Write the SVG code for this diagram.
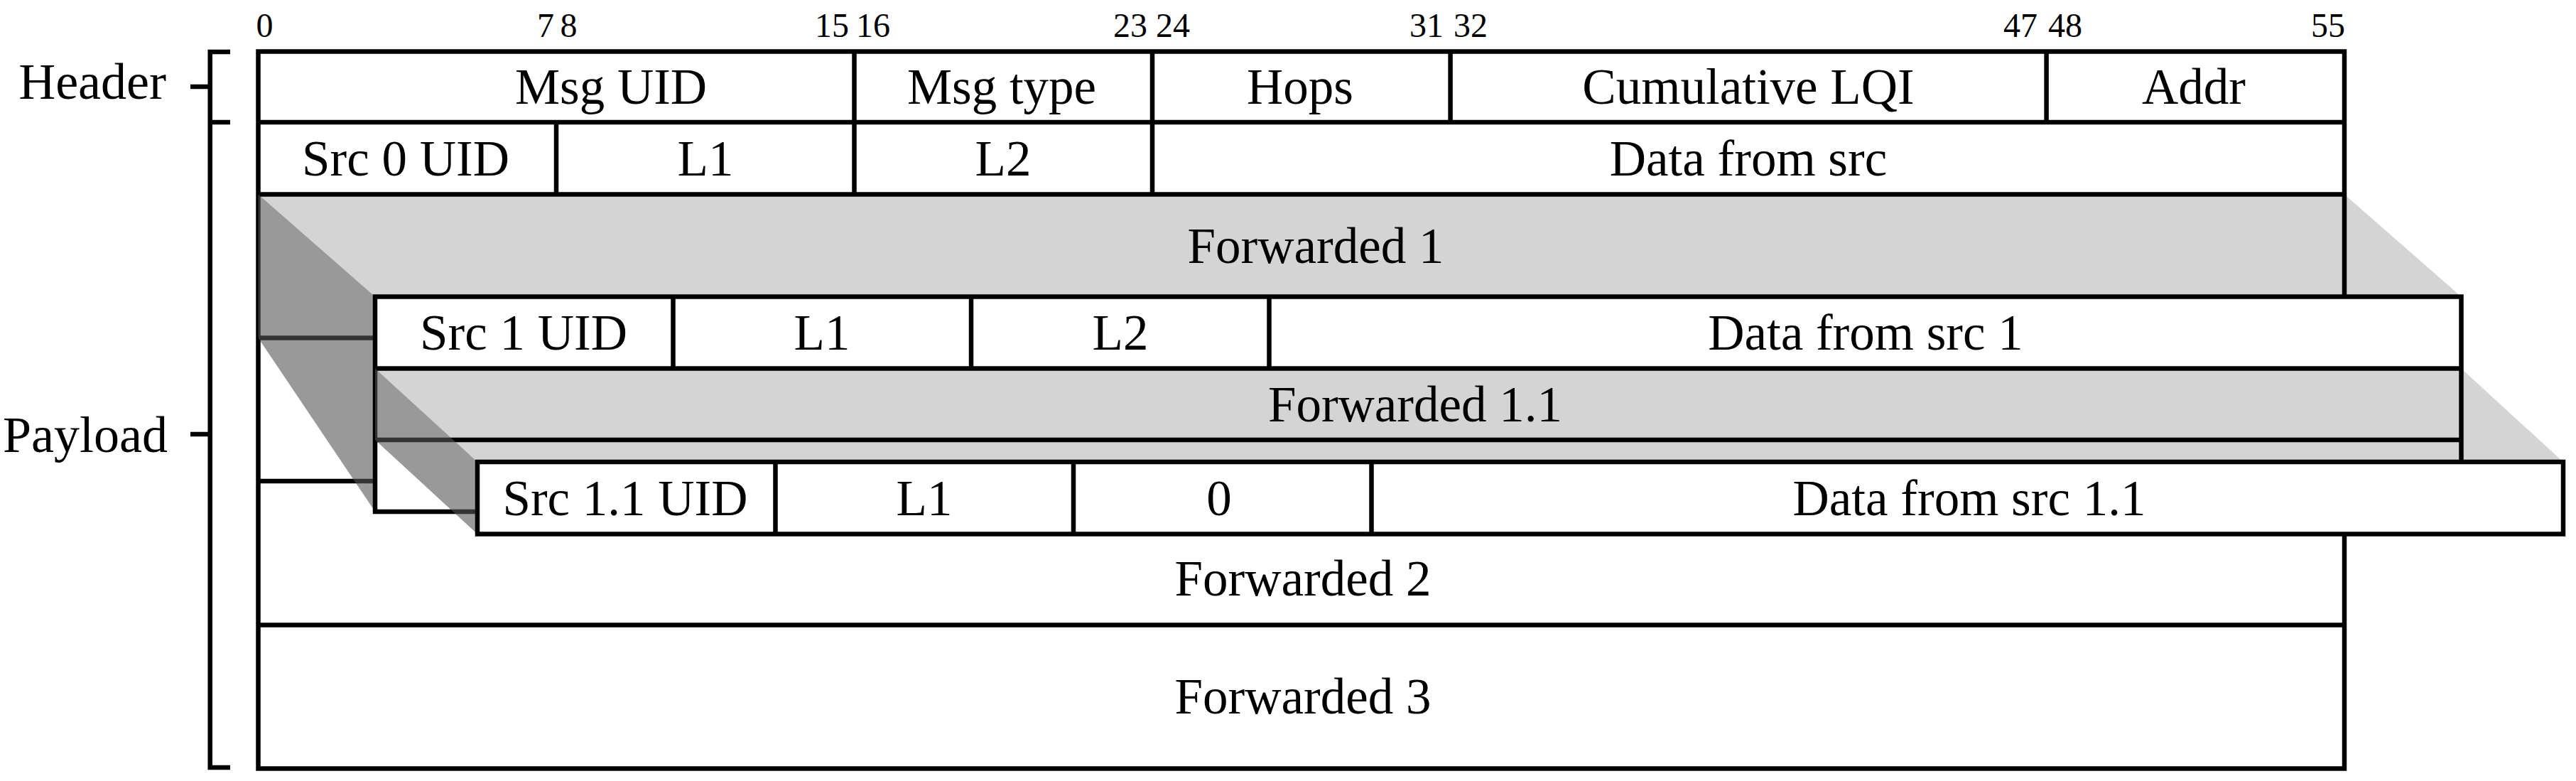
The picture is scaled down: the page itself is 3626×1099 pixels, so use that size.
<svg xmlns="http://www.w3.org/2000/svg" width="3626" height="1099" viewBox="0 0 3626 1099">
<style>
.ln{stroke:#000;stroke-width:6.5;fill:none;stroke-linejoin:miter}
.bg{fill:#fff}
.t{font-family:"Liberation Serif","Times New Roman",serif;font-size:71px;text-anchor:middle;fill:#000}
.side{font-family:"Liberation Serif","Times New Roman",serif;font-size:72px;text-anchor:end;fill:#000}
.b{font-family:"Liberation Serif","Times New Roman",serif;font-size:48px;text-anchor:middle;fill:#000}
.lg{fill:#000;fill-opacity:0.17}
.dg{fill:#555;fill-opacity:0.6}
</style>
<rect x="0" y="0" width="3626" height="1099" fill="#fff"/>

<g id="bit-numbers">
<text class="b" x="372.5" y="52">0</text>
<text class="b" x="768" y="52">7</text>
<text class="b" x="800.5" y="52">8</text>
<text class="b" x="1171" y="52">15</text>
<text class="b" x="1229" y="52">16</text>
<text class="b" x="1591" y="52">23</text>
<text class="b" x="1651" y="52">24</text>
<text class="b" x="2008" y="52">31</text>
<text class="b" x="2070" y="52">32</text>
<text class="b" x="2844" y="52">47</text>
<text class="b" x="2907" y="52">48</text>
<text class="b" x="3277" y="52">55</text>
</g>

<g id="brackets">
<path class="ln" d="M324,73 H295.7 V1080 H324"/>
<path class="ln" d="M268,122 H296"/>
<path class="ln" d="M296,172 H324"/>
<path class="ln" d="M268,611 H296"/>
<text class="side" x="234" y="139">Header</text>
<text class="side" x="236" y="636">Payload</text>
</g>

<g id="outer-packet">
<rect class="bg" x="363.5" y="72.5" width="2936.5" height="1009"/>
<rect class="ln" x="363.5" y="72.5" width="2936.5" height="1009"/>
<path class="ln" d="M363.5,172 H3300 M363.5,273.5 H3300 M363.5,475.5 H528 M363.5,677 H528 M363.5,879.5 H3300"/>
<path class="ln" d="M1202.5,72.5 V172 M1622,72.5 V172 M2041.6,72.5 V172 M2880.6,72.5 V172"/>
<path class="ln" d="M783,172 V273.5 M1202.5,172 V273.5 M1622,172 V273.5"/>
<text class="t" x="860" y="146">Msg UID</text>
<text class="t" x="1410" y="146">Msg type</text>
<text class="t" x="1830" y="146">Hops</text>
<text class="t" x="2461" y="146">Cumulative LQI</text>
<text class="t" x="3088" y="146">Addr</text>
<text class="t" x="571" y="247">Src 0 UID</text>
<text class="t" x="993" y="247">L1</text>
<text class="t" x="1412" y="247">L2</text>
<text class="t" x="2461" y="247">Data from src</text>
<text class="t" x="1852" y="370">Forwarded 1</text>
<text class="t" x="1834" y="838">Forwarded 2</text>
<text class="t" x="1834" y="1004">Forwarded 3</text>
</g>

<g id="connectors">
<g id="projection-1">
<polygon class="lg" points="363.5,273.5 3300,273.5 3464.5,417.5 528,417.5"/>
<polygon class="dg" points="363.5,273.5 528,417.5 528,720 363.5,475.5"/>
</g>
</g>

<g id="forwarded-1-packet">
<rect class="bg" x="528" y="417.5" width="2936.5" height="302.5"/>
<polygon class="lg" points="528,518.5 3464.5,518.5 3608,650 672,650"/>
<rect class="ln" x="528" y="417.5" width="2936.5" height="302.5"/>
<path class="ln" d="M528,518.5 H3464.5 M528,619 H3464.5"/>
<path class="ln" d="M947.5,417.5 V518.5 M1367,417.5 V518.5 M1786.5,417.5 V518.5"/>
<text class="t" x="737" y="492">Src 1 UID</text>
<text class="t" x="1157" y="492">L1</text>
<text class="t" x="1577" y="492">L2</text>
<text class="t" x="2626" y="492">Data from src 1</text>
<text class="t" x="1992" y="593">Forwarded 1.1</text>
<polygon class="dg" points="528,518.5 672,650 672,751.5 528,619"/>
</g>

<g id="forwarded-1-1-packet">
<rect class="bg" x="672" y="650" width="2936" height="101.5"/>
<rect class="ln" x="672" y="650" width="2936" height="101.5"/>
<path class="ln" d="M1091.5,650 V751.5 M1511,650 V751.5 M1930.5,650 V751.5"/>
<text class="t" x="880" y="725">Src 1.1 UID</text>
<text class="t" x="1301" y="725">L1</text>
<text class="t" x="1716" y="725">0</text>
<text class="t" x="2772" y="725">Data from src 1.1</text>
</g>
</svg>
